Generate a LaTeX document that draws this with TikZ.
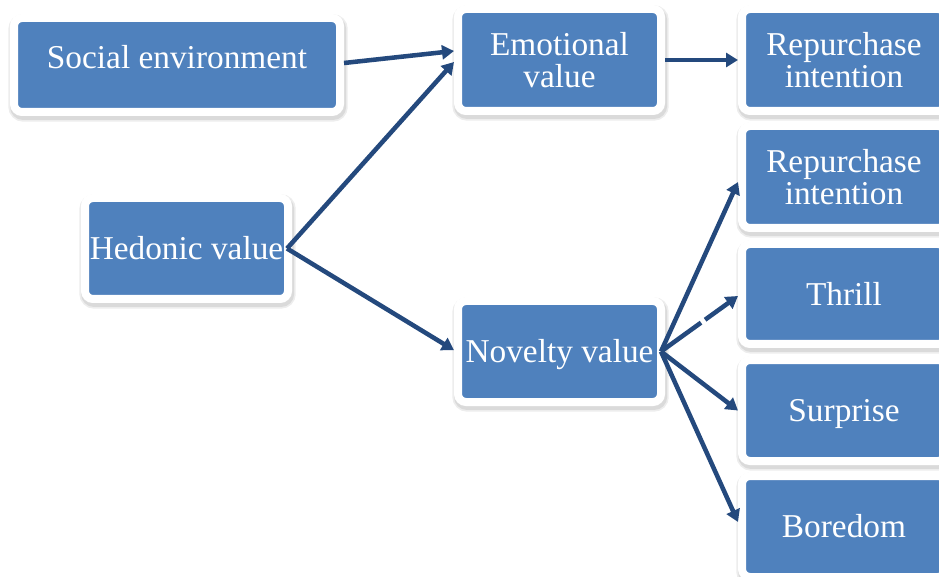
\documentclass[tikz,border=0pt]{standalone}
\usepackage{fontspec}
\setmainfont{Liberation Serif}
\usetikzlibrary{arrows.meta}
\definecolor{boxblue}{RGB}{79,129,189}
\definecolor{arrowblue}{RGB}{36,73,125}
\begin{document}
\begin{tikzpicture}[x=0.75pt,y=-0.75pt,
  box/.style={rectangle, fill=boxblue, draw=white, line width=6pt,
    rounded corners=6pt, text=white, align=center, inner sep=0pt,
    font=\fontsize{25}{24}\selectfont,
    preaction={draw=black, draw opacity=0.07, line width=10pt,
      transform canvas={xshift=0.8pt,yshift=-2.2pt}},
    preaction={draw=black, draw opacity=0.08, line width=7.5pt,
      transform canvas={xshift=0.8pt,yshift=-2.2pt}}},
  oneline/.style={text height=17pt, text depth=0pt},
  bw/.style={minimum width=#1*0.75pt+6pt},
  bh/.style={minimum height=#1*0.75pt+6pt},
  link/.style={draw=arrowblue, line width=3.4pt,
    -{Triangle[length=9pt,width=10.5pt]}}]
\useasboundingbox (0,0) rectangle (939,577);
\clip (0,0) rectangle (939,577);

% left column
\node[box, oneline, bw=318, bh=86] (soc) at (177,65)
  {\raisebox{6pt}[\height][\depth]{Social environment}};
\node[box, oneline, bw=195, bh=93] (hed) at (186.5,248.5) {Hedonic value};

% middle column
\node[box, bw=195, bh=94] (emo) at (559.5,60) {Emotional\\value};
\node[box, oneline, bw=195, bh=93] (nov) at (559.5,351.5) {Novelty value};

% right column
\node[box, bw=196, bh=94] (rep1) at (844,60) {Repurchase\\intention};
\node[box, bw=196, bh=94] (rep2) at (844,177) {Repurchase\\intention};
\node[box, oneline, bw=196, bh=92] (thr) at (844,294) {Thrill};
\node[box, oneline, bw=196, bh=93] (sur) at (844,410.5) {Surprise};
\node[box, oneline, bw=196, bh=93] (bor) at (844,526.5) {Boredom};

% connectors
\draw[link] ([yshift=1.5pt]soc.east) -- ([yshift=6.75pt]emo.west);
\draw[link] ([xshift=-3.75pt]hed.east) -- ([yshift=-1.5pt]emo.west);
\draw[link] ([xshift=-3.75pt]hed.east) -- ([yshift=1pt]nov.west);
\draw[link] (emo.east) -- (rep1.west);
\draw[link] ([xshift=-3pt]nov.east) -- ([yshift=-3.75pt]rep2.west);
\draw[link, dash pattern=on 37pt off 3.75pt on 100pt]
  ([xshift=-3pt]nov.east) -- ([yshift=-1.5pt]thr.west);
\draw[link] ([xshift=-3pt]nov.east) -- (sur.west);
\draw[link] ([xshift=-3pt]nov.east) -- ([yshift=3.4pt]bor.west);
\end{tikzpicture}
\end{document}
